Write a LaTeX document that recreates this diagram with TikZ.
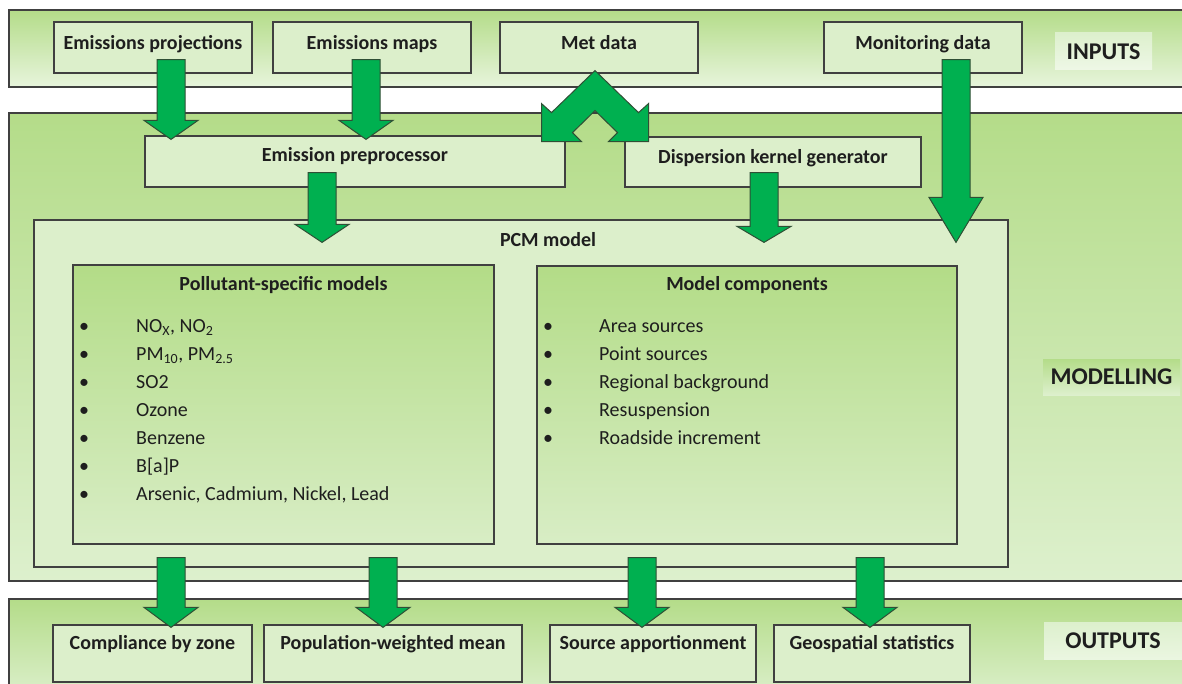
\documentclass[tikz,border=0pt]{standalone}
\usepackage{fontspec}
\setmainfont{Carlito}
\usepackage{xcolor}
\usepackage{tikz}
\usetikzlibrary{calc}

\definecolor{boxline}{HTML}{404040}
\definecolor{boxfill}{HTML}{DCEFCB}
\definecolor{bandtop}{HTML}{B4DC89}
\definecolor{bandbot}{HTML}{DDF0CD}
\definecolor{innertop}{HTML}{B3DC87}
\definecolor{innerbot}{HTML}{D8EDC5}
\definecolor{arrgreen}{HTML}{00B050}
\definecolor{arrline}{HTML}{2F4F35}
\definecolor{txt}{HTML}{1E1E1E}

% block arrow: x, from, to, overlap at top, overlap at tip, head length
\newcommand{\greenarrow}[6]{%
\draw[fatarrow] let \p1=([yshift=#4]#1,0 |- #2.south), \p2=([yshift=-#5]#1,0 |- #3.north) in
 (\x1-14pt,\y1) -- (\x1+14pt,\y1) -- (\x1+14pt,\y2+#6) -- (\x1+27pt,\y2+#6)
 -- (\x1,\y2) -- (\x1-27pt,\y2+#6) -- (\x1-14pt,\y2+#6) -- cycle;}

\begin{document}
\begin{tikzpicture}[x=1pt,y=-1pt,
 tbox/.style={draw=boxline, line width=1.2pt, fill=boxfill, inner sep=0pt, text=txt, font=\bfseries\fontsize{20}{24}\selectfont},
 topbox/.style={tbox, minimum width=198pt, text height=27.5pt, text depth=23.5pt},
 outbox/.style={tbox, text height=24.5pt, text depth=32.5pt},
 band/.style={draw=boxline, line width=1.2pt, top color=bandtop, bottom color=bandbot},
 lbl/.style={inner sep=0pt, text=txt, font=\bfseries\fontsize{24}{28}\selectfont},
 fatarrow/.style={draw=arrline, line width=1pt, fill=arrgreen, line join=miter},
 title/.style={text=txt, font=\bfseries\fontsize{20}{24}\selectfont},
 listtxt/.style={inner sep=0pt, text=txt, font=\fontsize{20}{24}\selectfont, anchor=base west}]
\useasboundingbox (0,0) rectangle (1182,684);
\fill[white] (0,0) rectangle (1182,684);

% the three bands
\draw[band, bottom color=bandbot!70!white] (9,10) rectangle (1192,87);
\draw[band] (9,113) rectangle (1192,581);
\draw[band] (9,599) rectangle (1192,700);

\node[lbl, top color=bandbot, bottom color=bandbot!50!white, minimum width=97pt, minimum height=37pt] (inlbl) at (1103.5,51.5) {INPUTS};
\node[lbl, top color=bandtop, bottom color=bandbot, minimum width=137pt, minimum height=36pt] (modlbl) at (1111.5,377) {MODELLING};
\node[lbl, top color=bandbot, bottom color=bandbot!60!white, minimum width=138pt, minimum height=37pt] (outlbl) at (1113,641) {OUTPUTS};

% inputs
\node[topbox] (eproj) at (153,47.5) {Emissions projections};
\node[topbox] (emaps) at (372,47.5) {Emissions maps};
\node[topbox] (met) at (599,47.5) {Met data};
\node[topbox] (mon) at (923,47.5) {Monitoring data};

% modelling
\node[tbox, minimum width=420pt, text height=25.5pt, text depth=25.5pt] (eprep) at (355,161.5) {Emission preprocessor};
\node[tbox, minimum width=296pt, text height=26.5pt, text depth=23.5pt] (dkg) at (773,162) {Dispersion kernel generator};
\node[tbox, minimum width=974pt, minimum height=347pt] (pcm) at (521,393.5) {};
\node[title] (pcmtitle) at (548,240) {PCM model};

\node[tbox, top color=innertop, bottom color=innerbot, minimum width=421pt, minimum height=279pt] (polmod) at (283.5,404.5) {};
\node[tbox, top color=innertop, bottom color=innerbot, minimum width=420pt, minimum height=278pt] (mcomp) at (747,405) {};
\node[title] (poltitle) at (283.5,285) {Pollutant-specific models};
\node[title] (mctitle) at (747,285) {Model components};

\foreach \pol [count=\i] in {{NO\textsubscript{X}, NO\textsubscript{2}}, {PM\textsubscript{10}, PM\textsubscript{2.5}}, SO2, Ozone, Benzene, B[a]P, {Arsenic, Cadmium, Nickel, Lead}}{
 \node[listtxt] (pb\i) at (79,304+28*\i) {\textbullet};
 \node[listtxt] (pol\i) at (136,304+28*\i) {\pol};
}
\foreach \mc [count=\i] in {Area sources, Point sources, Regional background, Resuspension, Roadside increment}{
 \node[listtxt] (mb\i) at (543,304+28*\i) {\textbullet};
 \node[listtxt] (mc\i) at (599,304+28*\i) {\mc};
}

% outputs
\node[outbox, minimum width=199pt] (zone) at (152.5,653.5) {Compliance by zone};
\node[outbox, minimum width=258pt] (popmean) at (393,653.5) {Population-weighted mean};
\node[outbox, minimum width=206pt] (srcapp) at (653,653.5) {Source apportionment};
\node[outbox, minimum width=196pt] (geostat) at (872,653.5) {Geospatial statistics};

% arrows
\greenarrow{171}{eproj}{eprep}{14pt}{4pt}{19pt}
\greenarrow{366}{emaps}{eprep}{14pt}{4pt}{19pt}
\greenarrow{322}{eprep}{pcm}{15pt}{23pt}{18pt}
\greenarrow{764}{dkg}{pcm}{15pt}{23pt}{16pt}
\greenarrow{956}{mon}{pcm}{14pt}{23pt}{45pt}
\foreach \ax/\dest in {171/zone, 383/popmean, 642/srcapp, 870/geostat}
 \greenarrow{\ax}{pcm}{\dest}{10pt}{3pt}{20pt};
\draw[fatarrow] ([xshift=-4pt,yshift=3pt]met.south) -- ++(-43.5,42) -- ++(-10,-9) -- ++(0,38) -- ++(40,0)
 -- ++(-9,-9) -- ++(22.5,-22) -- ++(22.5,22) -- ++(-9,9) -- ++(40,0) -- ++(0,-38) -- ++(-10,9) -- cycle;
\end{tikzpicture}
\end{document}
